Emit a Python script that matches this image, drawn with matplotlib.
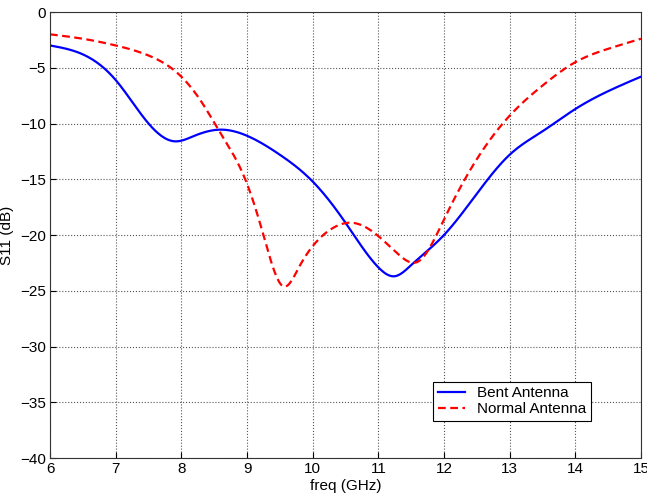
import numpy as np
import matplotlib.pyplot as plt

plt.rcParams['font.family'] = ['Liberation Sans', 'DejaVu Sans']

# S11 samples read along frequency (GHz)
bent_freq = [6.0, 6.5, 7.0, 7.5, 7.9, 8.2, 8.6, 9.0, 9.5, 10.0,
             10.5, 11.0, 11.25, 11.5, 12.0, 12.5, 13.0, 13.5, 14.0, 14.5, 15.0]
bent_s11 = [-3.0, -3.8, -6.1, -10.0, -11.6, -11.1, -10.55, -11.1,
            -12.8, -15.2, -18.9, -22.9, -23.7, -22.7, -20.0, -16.3, -12.8,
            -10.7, -8.7, -7.1, -5.8]

normal_freq = [6.0, 6.5, 7.0, 7.5, 8.0, 8.3, 8.6, 9.0, 9.25, 9.55, 9.8,
               10.0, 10.3, 10.6, 11.0, 11.3, 11.6, 12.0, 12.5, 13.0, 13.5,
               14.0, 14.5, 15.0]
normal_s11 = [-2.0, -2.4, -3.0, -3.9, -5.8, -8.0, -10.9, -15.4, -20.0,
              -24.6, -22.8, -21.0, -19.4, -18.9, -20.1, -21.7, -22.4, -18.6,
              -13.2, -9.3, -6.6, -4.5, -3.3, -2.4]


def spline(xs, ys, n=600):
    # natural cubic spline through the samples
    x = np.asarray(xs, float)
    y = np.asarray(ys, float)
    h = np.diff(x)
    m = len(x)
    A = np.zeros((m, m))
    r = np.zeros(m)
    A[0, 0] = A[-1, -1] = 1
    for i in range(1, m - 1):
        A[i, i - 1] = h[i - 1]
        A[i, i] = 2 * (h[i - 1] + h[i])
        A[i, i + 1] = h[i]
        r[i] = 6 * ((y[i + 1] - y[i]) / h[i] - (y[i] - y[i - 1]) / h[i - 1])
    M = np.linalg.solve(A, r)
    xx = np.linspace(x[0], x[-1], n)
    k = np.clip(np.searchsorted(x, xx) - 1, 0, m - 2)
    t1 = x[k + 1] - xx
    t0 = xx - x[k]
    hk = h[k]
    yy = (M[k] * t1 ** 3 + M[k + 1] * t0 ** 3) / (6 * hk) \
        + (y[k] / hk - M[k] * hk / 6) * t1 + (y[k + 1] / hk - M[k + 1] * hk / 6) * t0
    return xx, yy


fig = plt.figure(figsize=(6.47, 4.96), dpi=100)
ax = fig.add_axes([0.0773, 0.0766, 0.9134, 0.8992])

bx, by = spline(bent_freq, bent_s11)
nx, ny = spline(normal_freq, normal_s11)
ax.plot(bx, by, color='#0000ff', lw=1.6, label='Bent Antenna')
ax.plot(nx, ny, color='#ff0000', lw=1.6, ls=(0, (3.5, 2)), label='Normal Antenna')

ax.set_xlim(6, 15)
ax.set_ylim(-40, 0)
ax.set_xticks(range(6, 16))
ax.set_yticks(range(-40, 1, 5))
ax.grid(True, color='#555555', ls=':', lw=0.8)
ax.tick_params(direction='in', labelsize=11, length=4, pad=3)
for s in ax.spines.values():
    s.set_color('#333333')

ax.set_xlabel('freq (GHz)', fontsize=11, labelpad=2)
ax.set_ylabel('S11 (dB)', fontsize=11, labelpad=4)

leg = ax.legend(loc='lower left', bbox_to_anchor=(0.648, 0.083), fontsize=11,
                fancybox=False, framealpha=1, edgecolor='black',
                handlelength=1.8, handletextpad=0.8, borderpad=0.3,
                labelspacing=0.15, borderaxespad=0)
leg.get_frame().set_linewidth(0.8)

fig.savefig('out.png', dpi=100)
